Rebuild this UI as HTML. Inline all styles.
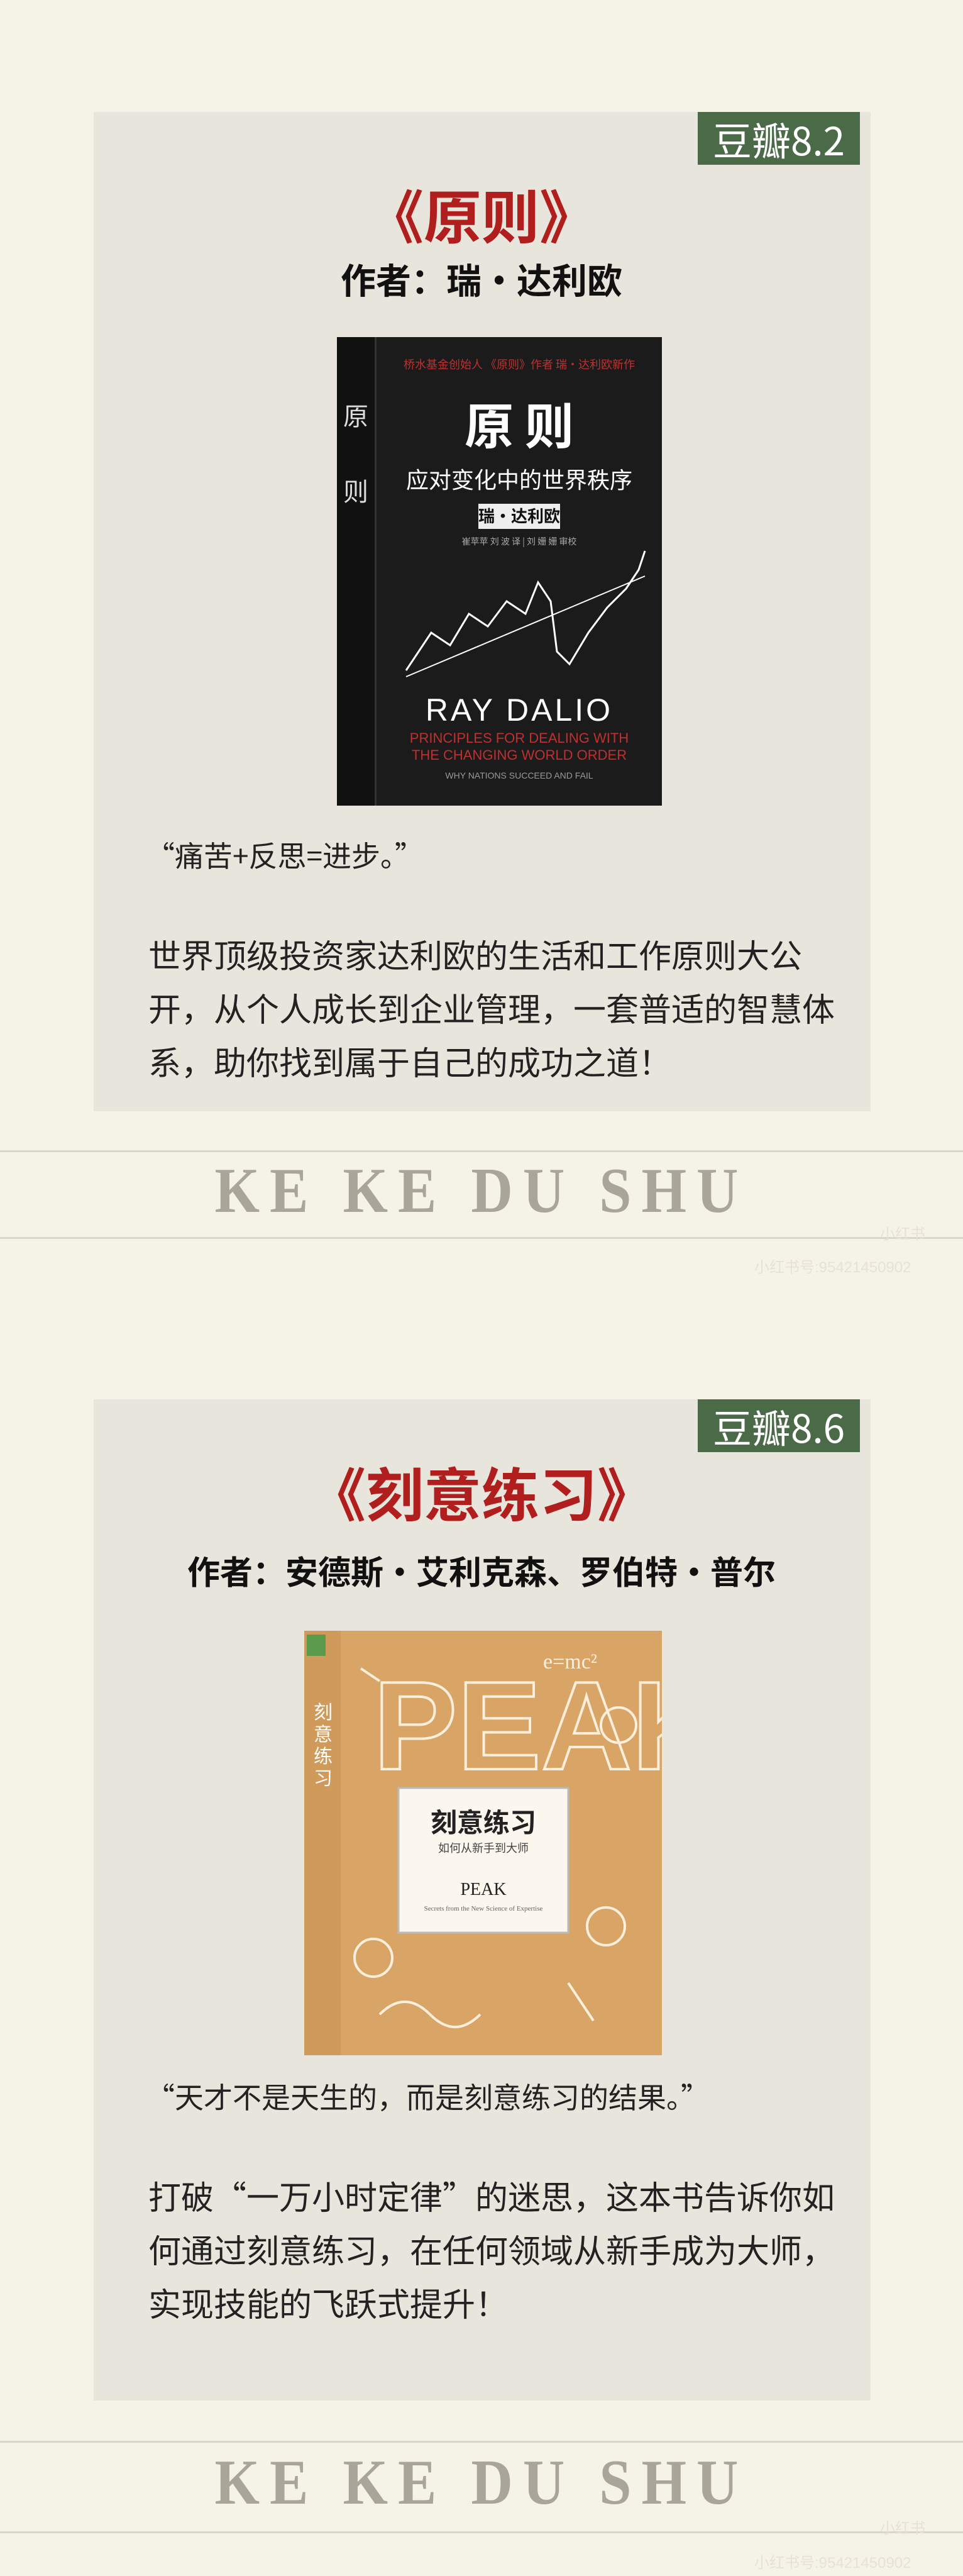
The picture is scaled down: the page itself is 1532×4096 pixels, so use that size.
<!DOCTYPE html>
<html><head><meta charset="utf-8">
<style>
html,body{margin:0;padding:0;}
body{width:1532px;height:4096px;background:#f5f2e8;position:relative;overflow:hidden;font-family:"Liberation Sans","Noto Sans CJK SC",sans-serif;}
.abs{position:absolute;}
.card{position:absolute;left:149px;width:1236px;background:#e8e5dc;}
.badge{position:absolute;left:1110px;width:258px;height:84px;background:#4a6a48;color:#fff;font-size:62px;line-height:84px;text-align:center;font-family:"Noto Sans CJK SC",sans-serif;}
.title{position:absolute;left:0;width:1532px;text-align:center;color:#b01e1e;font-weight:bold;font-size:92px;line-height:110px;font-family:"Noto Sans CJK SC",sans-serif;}
.author{position:absolute;left:0;width:1532px;text-align:center;color:#111;font-weight:bold;font-size:56px;line-height:70px;font-family:"Noto Sans CJK SC",sans-serif;}
.quote{position:absolute;left:232px;color:#222;font-size:46px;line-height:60px;font-family:"Noto Sans CJK SC",sans-serif;}
.para{position:absolute;left:236px;color:#222;font-size:52px;line-height:85px;font-family:"Noto Sans CJK SC",sans-serif;white-space:nowrap;}
.line{position:absolute;left:0;width:1532px;height:3px;background:#d9d5cb;}
.brand{position:absolute;left:0;width:1532px;text-align:center;color:#a9a599;font-family:"Liberation Serif",serif;font-weight:bold;font-size:92px;line-height:100px;letter-spacing:16px;transform:scaleY(1.1);}
.wm{position:absolute;color:#e6e2d8;font-size:24px;}
</style></head><body>

<div class="card" style="top:178px;height:1589px;"></div>
<div class="badge" style="top:178px;">豆瓣8.2</div>
<div class="title" style="top:285px;">《原则》</div>
<div class="author" style="top:409px;">作者：瑞·达利欧</div>

<svg class="abs" style="left:536px;top:536px;" width="517" height="745">
<rect x="0" y="0" width="517" height="745" fill="#1b1b1b"/>
<rect x="0" y="0" width="60" height="745" fill="#111"/>
<rect x="60" y="0" width="3" height="745" fill="#333"/>
<text x="30" y="140" fill="#ddd" font-size="40" text-anchor="middle" font-family="Noto Sans CJK SC">原</text>
<text x="30" y="260" fill="#ddd" font-size="40" text-anchor="middle" font-family="Noto Sans CJK SC">则</text>
<text x="290" y="50" fill="#c03030" font-size="18" text-anchor="middle" font-family="Noto Sans CJK SC">桥水基金创始人 《原则》作者 瑞·达利欧新作</text>
<text x="290" y="170" fill="#fff" font-size="78" font-weight="bold" text-anchor="middle" font-family="Noto Sans CJK SC">原 则</text>
<text x="290" y="240" fill="#fff" font-size="36" text-anchor="middle" font-family="Noto Sans CJK SC">应对变化中的世界秩序</text>
<rect x="225" y="265" width="130" height="40" fill="#eee"/>
<text x="290" y="294" fill="#111" font-size="26" font-weight="bold" text-anchor="middle" font-family="Noto Sans CJK SC">瑞·达利欧</text>
<text x="290" y="330" fill="#aaa" font-size="14" text-anchor="middle" font-family="Noto Sans CJK SC">崔苹苹 刘 波 译 | 刘 姗 姗 审校</text>
<polyline points="110,530 150,470 180,490 210,440 240,460 270,420 300,440 320,390 340,420 350,500 370,520 400,470 430,430 460,400 480,370 490,340" fill="none" stroke="#fff" stroke-width="3"/>
<polyline points="110,540 490,380" fill="none" stroke="#fff" stroke-width="2"/>
<text x="290" y="610" fill="#fff" font-size="50" text-anchor="middle" font-family="Liberation Sans" letter-spacing="4">RAY DALIO</text>
<text x="290" y="645" fill="#c03030" font-size="22" text-anchor="middle" font-family="Liberation Sans">PRINCIPLES FOR DEALING WITH</text>
<text x="290" y="672" fill="#c03030" font-size="22" text-anchor="middle" font-family="Liberation Sans">THE CHANGING WORLD ORDER</text>
<text x="290" y="702" fill="#999" font-size="14" text-anchor="middle" font-family="Liberation Sans">WHY NATIONS SUCCEED AND FAIL</text>
</svg>

<div class="quote" style="top:1329px;">“痛苦+反思=进步。”</div>
<div class="para" style="top:1474px;">世界顶级投资家达利欧的生活和工作原则大公<br>开，从个人成长到企业管理，一套普适的智慧体<br>系，助你找到属于自己的成功之道！</div>

<div class="line" style="top:1829px;"></div>
<div class="brand" style="top:1843px;">KE KE DU SHU</div>
<div class="line" style="top:1967px;"></div>
<div class="wm" style="left:1400px;top:1942px;">小红书</div>
<div class="wm" style="left:1200px;top:1995px;">小红书号:95421450902</div>

<div class="card" style="top:2225px;height:1592px;"></div>
<div class="badge" style="top:2225px;">豆瓣8.6</div>
<div class="title" style="top:2317px;">《刻意练习》</div>
<div class="author" style="top:2462px;font-size:52px;">作者：安德斯·艾利克森、罗伯特·普尔</div>

<svg class="abs" style="left:484px;top:2593px;" width="569" height="675">
<rect x="0" y="0" width="569" height="675" fill="#d8a567"/>
<rect x="0" y="0" width="58" height="675" fill="#cf9a5a"/>
<rect x="4" y="6" width="30" height="34" fill="#5a9a4a"/>
<text x="30" y="140" fill="#fff" font-size="30" text-anchor="middle" font-family="Noto Sans CJK SC">刻</text>
<text x="30" y="175" fill="#fff" font-size="30" text-anchor="middle" font-family="Noto Sans CJK SC">意</text>
<text x="30" y="210" fill="#fff" font-size="30" text-anchor="middle" font-family="Noto Sans CJK SC">练</text>
<text x="30" y="245" fill="#fff" font-size="30" text-anchor="middle" font-family="Noto Sans CJK SC">习</text>
<g fill="none" stroke="#fbefdc" stroke-width="4">
<text x="110" y="220" fill="none" stroke="#fbefdc" font-size="200" font-family="Liberation Sans" font-weight="bold">PEAK</text>
<circle cx="110" cy="520" r="30"/><circle cx="500" cy="150" r="28"/><circle cx="480" cy="470" r="30"/>
<path d="M120 610 q40-40 80 0 t80 0"/><path d="M420 560 l40 60"/><path d="M90 60 l30 20"/>
</g>
<text x="380" y="60" fill="#fbefdc" font-size="34" font-family="Liberation Serif">e=mc²</text>
<rect x="150" y="250" width="270" height="230" fill="#fbf7ee" stroke="#bbb" stroke-width="3"/>
<text x="285" y="320" fill="#222" font-size="42" font-weight="bold" text-anchor="middle" font-family="Noto Sans CJK SC">刻意练习</text>
<text x="285" y="352" fill="#444" font-size="18" text-anchor="middle" font-family="Noto Sans CJK SC">如何从新手到大师</text>
<text x="285" y="420" fill="#222" font-size="28" text-anchor="middle" font-family="Liberation Serif">PEAK</text>
<text x="285" y="445" fill="#666" font-size="11" text-anchor="middle" font-family="Liberation Serif">Secrets from the New Science of Expertise</text>
</svg>

<div class="quote" style="top:3303px;">“天才不是天生的，而是刻意练习的结果。”</div>
<div class="para" style="top:3448px;">打破“一万小时定律”的迷思，这本书告诉你如<br>何通过刻意练习，在任何领域从新手成为大师，<br>实现技能的飞跃式提升！</div>

<div class="line" style="top:3881px;"></div>
<div class="brand" style="top:3897px;">KE KE DU SHU</div>
<div class="line" style="top:4025px;"></div>
<div class="wm" style="left:1400px;top:4000px;">小红书</div>
<div class="wm" style="left:1200px;top:4055px;">小红书号:95421450902</div>

</body></html>
